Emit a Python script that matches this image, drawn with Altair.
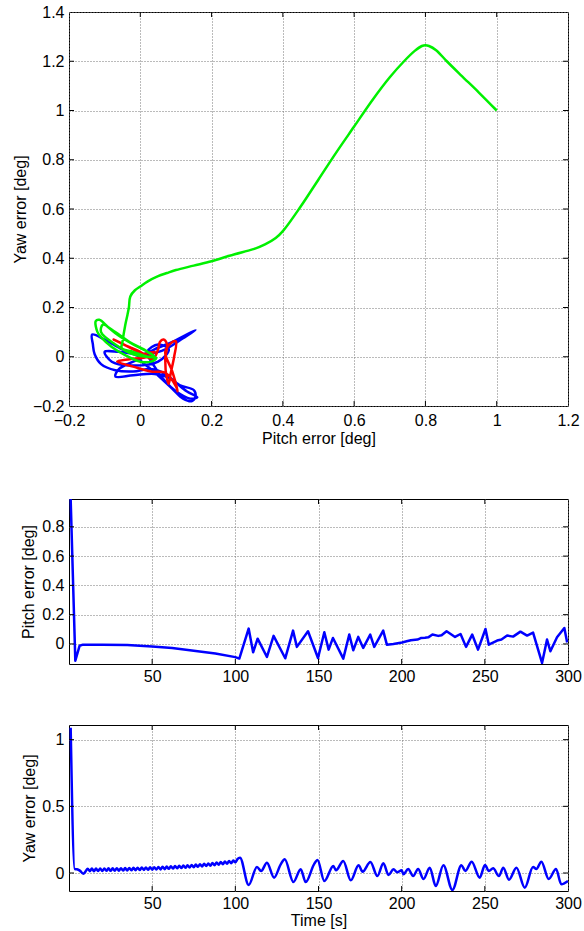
import altair as alt
import pandas as pd

FONT = "Liberation Sans"
BLUE, GREEN, RED = "#0000ff", "#00f000", "#ff0000"

# ---------------- top panel: yaw error vs pitch error ----------------
green_x = [1.0, 0.95, 0.9, 0.86, 0.83, 0.81, 0.8, 0.79, 0.77, 0.74, 0.7, 0.65, 0.6, 0.55, 0.5,
           0.45, 0.4, 0.38, 0.35, 0.32, 0.3, 0.25, 0.2, 0.15, 0.1, 0.075, 0.05, 0.02, 0.0,
           -0.015, -0.028, -0.032, -0.036, -0.042, -0.05, -0.052,
           -0.02, 0.02, 0.045, 0.03, 0.0, -0.04, -0.08, -0.11, -0.12, -0.125, -0.115, -0.09,
           -0.06, -0.02, 0.02, 0.04, -0.02, -0.07, -0.11, -0.105, -0.07, -0.03, 0.01, 0.03]
green_y = [1.0, 1.073, 1.143, 1.2, 1.245, 1.262, 1.265, 1.262, 1.242, 1.2, 1.135, 1.04, 0.935, 0.83, 0.72,
           0.61, 0.51, 0.482, 0.456, 0.438, 0.43, 0.41, 0.388, 0.37, 0.352, 0.34, 0.327, 0.305, 0.285,
           0.27, 0.245, 0.2, 0.17, 0.13, 0.06, 0.035,
           0.02, 0.0, -0.005, -0.02, -0.02, 0.005, 0.04, 0.08, 0.1, 0.145, 0.15, 0.12,
           0.085, 0.05, 0.02, 0.0, 0.01, 0.05, 0.1, 0.13, 0.1, 0.06, 0.03, 0.01]

blue_x = [0.0, -0.05, -0.1, -0.135, -0.133, -0.128, -0.11, -0.07, -0.02, 0.03, 0.07, 0.11, 0.15,
          0.155, 0.145, 0.12, 0.09, 0.06, 0.03, 0.0, 0.04, 0.09, 0.155, 0.12, 0.07, 0.03, -0.02,
          -0.06, -0.07, -0.02, 0.04, 0.08, 0.13, 0.16, 0.14, 0.1, 0.07, 0.04, 0.02, 0.05, 0.08,
          0.05, -0.03, -0.08, -0.1, -0.06, 0.0, 0.03]
blue_y = [0.0, 0.03, 0.07, 0.09, 0.05, 0.01, -0.03, -0.055, -0.06, -0.05, -0.07, -0.115, -0.135,
          -0.16, -0.18, -0.17, -0.13, -0.09, -0.05, -0.01, 0.03, 0.06, 0.108, 0.075, 0.03, 0.01, -0.02,
          -0.05, -0.08, -0.075, -0.07, -0.085, -0.14, -0.165, -0.17, -0.14, -0.1, -0.04, 0.02, 0.05, 0.03,
          -0.02, -0.035, -0.02, 0.02, 0.02, 0.01, 0.02]

red_x = [0.03, -0.02, -0.075, -0.04, 0.0, 0.035, 0.05, 0.055, 0.065, 0.075, 0.07, 0.075, 0.08,
         0.085, 0.095, 0.1, 0.09, 0.07, 0.09, 0.105, 0.1, 0.07, 0.03, -0.02, -0.065, -0.03, 0.02,
         0.04, 0.01]
red_y = [-0.01, 0.03, 0.07, 0.045, 0.02, -0.01, 0.03, 0.06, 0.07, 0.05, -0.01, -0.09, -0.11,
         -0.07, 0.0, 0.062, 0.06, 0.02, -0.06, -0.14, -0.12, -0.065, -0.06, -0.04, -0.02, -0.01, 0.0,
         0.02, 0.01]

top_xticks = [-0.2, 0, 0.2, 0.4, 0.6, 0.8, 1.0, 1.2]
top_yticks = [-0.2, 0, 0.2, 0.4, 0.6, 0.8, 1.0, 1.2, 1.4]

# ---------------- middle panel: pitch error vs time ----------------
pitch_t = [1, 3.8, 6.4, 8.4, 20, 35, 50, 62, 75, 88, 100, 102.4, 108, 110.7, 113.4, 119, 123,
           130, 134.7, 137, 143.7, 149.7, 153.5, 156.1, 158.7, 164.9, 168.5, 170.9, 173.9, 176.9,
           181.1, 183.5, 188.9, 191.1, 195, 200.2, 203, 205.5, 209.5, 211.5, 214, 216, 218.5, 222,
           224, 227, 232.1, 235.4, 238.7, 242.4, 245.9, 250.4, 252.4, 257.4, 260, 263.4, 267, 271.4,
           275.4, 279, 284.4, 287.4, 289.4, 293.4, 297.8, 299.5]
pitch_v = [0.99, -0.114, -0.012, -0.005, -0.006, -0.008, -0.018, -0.028, -0.046, -0.066, -0.09,
           -0.10, 0.105, -0.057, 0.036, -0.089, 0.055, -0.098, 0.091, -0.02, 0.087, -0.096, 0.08,
           -0.039, 0.041, -0.10, 0.064, -0.043, 0.048, -0.027, 0.064, -0.02, 0.091, -0.005, 0.0,
           0.01, 0.018, 0.025, 0.03, 0.04, 0.042, 0.045, 0.064, 0.055, 0.06, 0.087, 0.048, 0.068,
           -0.02, 0.064, -0.039, 0.102, -0.005, 0.023, 0.03, 0.057, 0.05, 0.084, 0.057, 0.077,
           -0.13, 0.03, -0.05, 0.046, 0.109, 0.01]

# ---------------- bottom panel: yaw error vs time ----------------
yaw_t = [1, 3.4, 4.8, 6.5, 8.6,
         10, 11.25, 12.5, 13.75, 15, 16.25, 17.5, 18.75, 20, 21.25, 22.5, 23.75, 25, 26.25,
         27.5, 28.75, 30, 31.25, 32.5, 33.75, 35, 36.25, 37.5, 38.75, 40, 41.25, 42.5, 43.75,
         45, 46.25, 47.5, 48.75, 50, 51.25, 52.5, 53.75, 55, 56.25, 57.5, 58.75, 60, 61.25,
         62.5, 63.75, 65, 66.25, 67.5, 68.75, 70, 71.25, 72.5, 73.75, 75, 76.25, 77.5, 78.75,
         80, 81.25, 82.5, 83.75, 85, 86.25, 87.5, 88.75, 90, 91.25, 92.5, 93.75, 95, 96.25,
         97.5, 98.75, 100, 101.25,
         102.8, 108, 113, 115.5, 119, 123.3, 127.3, 129.7, 134.9, 139.3, 142.3, 147.3, 149.4,
         153.5, 158.9, 160.5, 164.9, 169.4, 174.1, 176.5, 181.2, 185.4, 189, 192.1, 195.1, 197.3,
         200, 201.1, 203.9, 206.9, 209.9, 213.1, 216.9, 220.5, 225.1, 230.5, 235.9, 238.3, 242.1,
         246.9, 250.1, 252.4, 255, 258.5, 261.1, 264.5, 269, 274, 279, 281, 284, 288.4, 292.8,
         296, 300]
yaw_v = [1.09, 0.03, 0.028, 0.018, -0.005,
         0.012, 0.032, 0.014, 0.033, 0.014, 0.033, 0.015, 0.034, 0.015, 0.034, 0.016, 0.035,
         0.016, 0.035, 0.017, 0.036, 0.017, 0.036, 0.018, 0.037, 0.019, 0.038, 0.020, 0.039,
         0.021, 0.040, 0.022, 0.041, 0.023, 0.042, 0.024, 0.043, 0.025, 0.044, 0.026, 0.045,
         0.027, 0.047, 0.029, 0.048, 0.031, 0.050, 0.033, 0.052, 0.035, 0.054, 0.037, 0.056,
         0.039, 0.058, 0.041, 0.060, 0.043, 0.063, 0.046, 0.066, 0.049, 0.069, 0.052, 0.072,
         0.055, 0.075, 0.058, 0.078, 0.062, 0.082, 0.066, 0.086, 0.070, 0.090, 0.074, 0.094,
         0.080, 0.104,
         0.115, -0.09, 0.045, 0.015, 0.077, -0.035, 0.065, 0.103, -0.068, 0.028, -0.068, 0.065,
         0.098, -0.06, 0.053, 0.02, 0.09, -0.055, 0.058, 0.01, 0.083, -0.023, 0.073, -0.015,
         0.028, 0.005, 0.02, -0.01, 0.03, -0.023, 0.03, -0.045, 0.04, -0.098, 0.058, -0.128,
         0.058, 0.015, 0.085, -0.035, 0.06, 0.015, 0.035, -0.023, 0.04, -0.05, 0.04, -0.11,
         0.045, 0.03, 0.085, -0.045, 0.03, -0.085, -0.06]

time_ticks = [50, 100, 150, 200, 250, 300]
pitch_yticks = [0, 0.2, 0.4, 0.6, 0.8]
yaw_yticks = [0, 0.5, 1]

W = 499
H_TOP, H_MID, H_BOT = 394, 165, 166
TICK = 5


def make_axis(values, title, fmt, label_pad=4, title_x=None, title_y=None):
    kw = dict(values=values, format=fmt, labelFlush=False, labelOverlap=False, grid=True,
              ticks=False, domain=False, labelPadding=label_pad, title=title)
    if title_x is not None:
        kw["titleX"] = title_x
    if title_y is not None:
        kw["titleY"] = title_y
    return alt.Axis(**kw)


def panel(series, xdom, ydom, xticks, yticks, xtitle, ytitle, h, ytitle_x, xtitle_y,
          xfmt, xpad=4, interp="linear", extend_bottom=None):
    xs = alt.Scale(domain=xdom, nice=False, zero=False)
    ys = alt.Scale(domain=ydom, nice=False, zero=False)
    xax = make_axis(xticks, xtitle, xfmt, label_pad=xpad, title_y=xtitle_y)
    yax = make_axis(yticks, ytitle, "~r", label_pad=5, title_x=ytitle_x)
    layers = []
    for xv, yv, color in series:
        df = pd.DataFrame({"x": xv, "y": yv, "i": list(range(len(xv)))})
        layers.append(
            alt.Chart(df).mark_line(color=color, strokeWidth=2.5, clip=True,
                                    interpolate=interp, strokeJoin="round")
            .encode(x=alt.X("x:Q", scale=xs, axis=xax),
                    y=alt.Y("y:Q", scale=ys, axis=yax), order="i:Q")
        )
    # inward tick marks (MATLAB style) on all four sides
    xt = pd.DataFrame({"x": [v for v in xticks if xdom[0] < v < xdom[1]]})
    yt = pd.DataFrame({"y": [v for v in yticks if ydom[0] < v < ydom[1]]})
    layers.append(alt.Chart(xt).mark_rule(color="black", strokeWidth=1).encode(
        x=alt.X("x:Q", scale=xs, axis=xax), y=alt.value(h), y2=alt.value(h - TICK)))
    layers.append(alt.Chart(xt).mark_rule(color="black", strokeWidth=1).encode(
        x=alt.X("x:Q", scale=xs, axis=xax), y=alt.value(0), y2=alt.value(TICK)))
    layers.append(alt.Chart(yt).mark_rule(color="black", strokeWidth=1).encode(
        y=alt.Y("y:Q", scale=ys, axis=yax), x=alt.value(0), x2=alt.value(TICK)))
    layers.append(alt.Chart(yt).mark_rule(color="black", strokeWidth=1).encode(
        y=alt.Y("y:Q", scale=ys, axis=yax), x=alt.value(W - TICK), x2=alt.value(W)))
    if extend_bottom is not None:
        layers.append(alt.Chart(pd.DataFrame({"a": [0]})).mark_rule(color="white", strokeWidth=1)
                      .encode(x=alt.value(0), x2=alt.value(1),
                              y=alt.value(h + extend_bottom), y2=alt.value(h + extend_bottom)))
    return alt.layer(*layers).properties(width=W, height=h)


top = panel([(blue_x, blue_y, BLUE), (red_x, red_y, RED), (green_x, green_y, GREEN)],
            [-0.2, 1.2], [-0.2, 1.4], top_xticks, top_yticks,
            "Pitch error [deg]", "Yaw error [deg]", H_TOP, -40.5, 24, "~r", xpad=6,
            interp="catmull-rom", extend_bottom=52)
mid = panel([(pitch_t, pitch_v, BLUE)], [0, 300], [-0.137, 0.99], time_ticks, pitch_yticks,
            None, "Pitch error [deg]", H_MID, -33, None, "d")
bot = panel([(yaw_t, yaw_v, BLUE)], [0, 300], [-0.135, 1.11], time_ticks, yaw_yticks,
            "Time [s]", "Yaw error [deg]", H_BOT, -32, 21, "d", interp="monotone")

chart = (
    alt.vconcat(top, mid, bot, spacing=39)
    .properties(padding={"left": 12, "top": 3, "right": 2, "bottom": 2}, background="white")
    .configure_view(stroke="black", strokeWidth=1)
    .configure_axis(labelFont=FONT, titleFont=FONT, labelFontSize=16, titleFontSize=16,
                    labelColor="black", titleColor="black", titleFontWeight="normal",
                    gridColor="#777777", gridDash=[1, 2], gridWidth=1, gridOpacity=1)
)

chart.save("out.html", embed_options={"renderer": "svg", "actions": False})
